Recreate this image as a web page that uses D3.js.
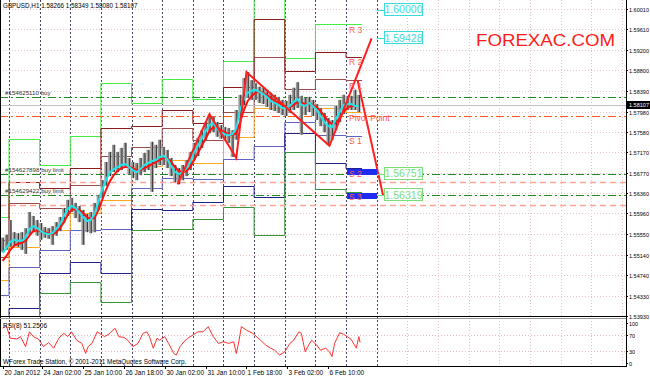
<!DOCTYPE html>
<html>
<head>
<meta charset="utf-8">
<script src="https://cdn.jsdelivr.net/npm/d3@7"></script>
<style>
  html, body { margin: 0; padding: 0; background: #fff; }
  svg { display: block; font-family: "Liberation Sans", Arial, sans-serif; }
</style>
</head>
<body>
<div id="chart"></div>
<script>
// one sample every 3 hourly bars, bar 0 = 20 Jan 19:00
const barStep = 3;
const highs = [1.5548,1.5554,1.5583,1.5559,1.5557,1.5559,1.5567,1.5599,1.5591,1.5583,
  1.5577,1.5569,1.5567,1.5571,1.5579,1.5589,1.5607,1.5623,1.5627,1.5617,
  1.5611,1.5603,1.5595,1.5599,1.5617,1.5633,1.5662,1.5698,1.5718,1.5732,
  1.5718,1.5726,1.5736,1.5706,1.5698,1.5696,1.5706,1.5716,1.5722,1.5738,
  1.5732,1.5742,1.5728,1.5722,1.5706,1.5692,1.5686,1.5692,1.5702,1.5718,
  1.5736,1.5746,1.5761,1.5777,1.5791,1.5787,1.5777,1.5771,1.5767,1.5765,
  1.5761,1.5801,1.5831,1.5864,1.5876,1.5860,1.5854,1.5847,1.5845,1.5841,
  1.5835,1.5831,1.5827,1.5821,1.5819,1.5831,1.5845,1.5856,1.5829,1.5825,
  1.5827,1.5821,1.5813,1.5805,1.5795,1.5785,1.5781,1.5809,1.5821,1.5831,
  1.5829,1.5829,1.5841,1.5831];
const lows = [1.5520,1.5524,1.5530,1.5532,1.5530,1.5524,1.5516,1.5554,1.5559,1.5552,
  1.5544,1.5548,1.5546,1.5534,1.5552,1.5561,1.5577,1.5591,1.5599,1.5587,
  1.5579,1.5534,1.5559,1.5557,1.5559,1.5603,1.5627,1.5651,1.5670,1.5678,
  1.5678,1.5682,1.5686,1.5674,1.5666,1.5662,1.5672,1.5678,1.5682,1.5639,
  1.5686,1.5692,1.5692,1.5686,1.5670,1.5658,1.5654,1.5662,1.5670,1.5682,
  1.5702,1.5710,1.5726,1.5742,1.5755,1.5757,1.5748,1.5744,1.5740,1.5736,
  1.5708,1.5742,1.5781,1.5811,1.5825,1.5821,1.5821,1.5815,1.5813,1.5807,
  1.5801,1.5799,1.5795,1.5791,1.5789,1.5795,1.5801,1.5805,1.5752,1.5791,
  1.5797,1.5789,1.5781,1.5769,1.5757,1.5732,1.5742,1.5761,1.5777,1.5793,
  1.5801,1.5801,1.5801,1.5797];
const maFast = [1.5518,1.5528,1.5540,1.5544,1.5542,1.5542,1.5548,1.5565,1.5571,1.5567,
  1.5561,1.5557,1.5555,1.5557,1.5565,1.5575,1.5591,1.5605,1.5611,1.5607,
  1.5599,1.5589,1.5581,1.5583,1.5595,1.5619,1.5643,1.5662,1.5678,1.5684,
  1.5688,1.5692,1.5694,1.5688,1.5682,1.5678,1.5684,1.5692,1.5696,1.5700,
  1.5702,1.5708,1.5710,1.5704,1.5690,1.5678,1.5674,1.5678,1.5686,1.5698,
  1.5718,1.5730,1.5744,1.5759,1.5771,1.5775,1.5763,1.5757,1.5753,1.5751,
  1.5753,1.5765,1.5801,1.5823,1.5835,1.5839,1.5841,1.5837,1.5833,1.5827,
  1.5819,1.5815,1.5811,1.5805,1.5805,1.5809,1.5817,1.5823,1.5811,1.5809,
  1.5815,1.5809,1.5801,1.5789,1.5777,1.5769,1.5767,1.5783,1.5797,1.5811,
  1.5813,1.5813,1.5809,1.5809];
const maSlow = [1.5502,1.5512,1.5524,1.5532,1.5536,1.5538,1.5542,1.5552,1.5561,1.5563,
  1.5561,1.5559,1.5557,1.5555,1.5559,1.5567,1.5579,1.5593,1.5603,1.5605,
  1.5603,1.5597,1.5589,1.5585,1.5587,1.5603,1.5623,1.5643,1.5660,1.5672,
  1.5680,1.5686,1.5688,1.5688,1.5686,1.5682,1.5682,1.5686,1.5690,1.5694,
  1.5698,1.5702,1.5706,1.5706,1.5698,1.5688,1.5680,1.5678,1.5680,1.5688,
  1.5702,1.5716,1.5730,1.5744,1.5759,1.5767,1.5767,1.5761,1.5757,1.5753,
  1.5751,1.5755,1.5777,1.5801,1.5819,1.5829,1.5835,1.5837,1.5835,1.5831,
  1.5825,1.5819,1.5815,1.5811,1.5807,1.5807,1.5811,1.5817,1.5815,1.5813,
  1.5813,1.5811,1.5807,1.5799,1.5789,1.5779,1.5773,1.5775,1.5785,1.5797,
  1.5805,1.5809,1.5809,1.5809];

const rsiBars = [0,3,6,11,14,18,21,24,28,32,36,40,44,48,51,54,58,62,65,67,
  70,74,76,80,84,88,91,95,98,102,106,110,113,115,118,121,123,127,130,134,
  136,139,142,145,149,153,157,161,165,169,173,177,181,183,185,187,191,196,202,206,
  210,213,217,221,225,228,232,234,237,239,242,246,249,253,256,258,260,264,267,270,
  273,277,279,280];
const rsiValues = [87,92,62,60,66,41,78,66,60,41,51,37,62,74,66,78,57,49,24,41,
  49,78,74,66,74,87,66,64,57,41,49,74,78,66,37,62,57,66,49,24,
  20,41,53,62,70,78,78,91,66,49,53,49,53,24,53,91,82,74,57,45,
  37,32,20,28,49,57,78,74,28,41,57,45,32,37,28,16,49,76,72,66,
  59,37,66,51];

// daily pivot levels (20 Jan .. 7 Feb)
const dayStartBars = [-2,5,29,53,77,101,125,149,173,197,221,245,269];
const lastBar = 280;
const pivotR3 = [1.5589,1.5744,1.5692,1.5750,1.5854,1.5815,1.5862,1.5823,1.5898,1.6082,1.5904,1.5971,1.5971];
const pivotR2 = [1.5544,1.5658,1.5647,1.5686,1.5765,1.5769,1.5801,1.5775,1.5847,1.5981,1.5878,1.5916,1.5906];
const pivotR1 = [1.5510,1.5617,1.5607,1.5653,1.5710,1.5728,1.5765,1.5742,1.5797,1.5906,1.5843,1.5862,1.5860];
const pivotP  = [1.5464,1.5530,1.5563,1.5597,1.5623,1.5690,1.5702,1.5696,1.5748,1.5805,1.5817,1.5805,1.5797];
const pivotS1 = [1.5435,1.5490,1.5524,1.5563,1.5565,1.5647,1.5666,1.5664,1.5704,1.5730,1.5777,1.5752,1.5750];
const pivotS2 = [1.5385,1.5409,1.5478,1.5500,1.5478,1.5605,1.5603,1.5619,1.5650,1.5629,1.5755,1.5696,1.5686];
const pivotS3 = [1.5352,1.5369,1.5439,1.5460,1.5421,1.5563,1.5565,1.5585,1.5609,1.5554,1.5718,1.5645,1.5639];

const zigzagBars = [137,162,183,191,256,289];
const zigzagPrices = [1.5654,1.5793,1.5706,1.5876,1.5730,1.59428];
const projBars = [278,298];
const projPrices = [1.5860,1.56319];

const orderPrices = [1.5827,1.56751,1.56319];
const orderNames = ['#154625110 buy','#154627898 buy limit','#154629422 buy limit'];
const stopPrices = [1.5789,1.5658,1.5613];
const targetPrices = [1.60000,1.59428,1.56751,1.56319];
const bid = 1.58107;

const priceTicks = [1.60010,1.59610,1.59200,1.58800,1.58390,1.57980,1.57580,1.57170,
  1.56770,1.56360,1.55960,1.55550,1.55140,1.54740,1.54330,1.53930];
const rsiTicks = [100,70,30,0];
const timeLabelBars = [0,31,63,95,127,159,191,223,255];
const timeLabels = ['20 Jan 2012','24 Jan 02:00','25 Jan 10:00','26 Jan 18:00','30 Jan 02:00',
  '31 Jan 10:00','1 Feb 18:00','3 Feb 02:00','6 Feb 10:00'];

const W = 650, H = 378, plotRight = 626;
const mainBottom = 316, rsiTop = 319, rsiBottom = 366;

const x = d3.scaleLinear().domain([5, 280]).range([9, 360.1]);
const y = d3.scaleLinear().domain([1.5393, 1.6001]).range([316, 9]);
const yr = d3.scaleLinear().domain([0, 100]).range([363, 323]);

const svg = d3.select('#chart').append('svg')
  .attr('width', W).attr('height', H);

svg.append('defs').append('clipPath').attr('id', 'clipMain')
  .append('rect').attr('x', 0).attr('y', 0).attr('width', plotRight).attr('height', mainBottom);

// grid
const grid = svg.append('g');
grid.selectAll('.hg').data(priceTicks).enter().append('line')
  .attr('x1', 0).attr('x2', plotRight)
  .attr('y1', d => Math.round(y(d)) + 0.5).attr('y2', d => Math.round(y(d)) + 0.5)
  .attr('stroke', '#e4c4c4').attr('stroke-dasharray', '1,2');
grid.selectAll('.rg').data([70, 30]).enter().append('line')
  .attr('x1', 0).attr('x2', plotRight)
  .attr('y1', d => Math.round(yr(d)) + 0.5).attr('y2', d => Math.round(yr(d)) + 0.5)
  .attr('stroke', '#e0bcbc').attr('stroke-dasharray', '1,2');
const futureBars = d3.range(293 + 24, 490, 24);
grid.selectAll('.vg').data(futureBars).enter().append('line')
  .attr('x1', d => Math.round(x(d)) + 0.5).attr('x2', d => Math.round(x(d)) + 0.5)
  .attr('y1', 0).attr('y2', rsiBottom)
  .attr('stroke', '#e4c4c4').attr('stroke-dasharray', '1,2');

// period separators
const sepBars = dayStartBars.slice(1).concat([293]);
grid.selectAll('.sep').data(sepBars).enter().append('line')
  .attr('x1', d => Math.round(x(d)) + 0.5).attr('x2', d => Math.round(x(d)) + 0.5)
  .attr('y1', 0).attr('y2', rsiBottom)
  .attr('stroke', '#45456a').attr('stroke-dasharray', '2,2');

const main = svg.append('g').attr('clip-path', 'url(#clipMain)');

// pivot step lines
const pivotSets = [
  {vals: pivotR3, color: '#45ee45'},
  {vals: pivotR2, color: '#8b1c1c'},
  {vals: pivotR1, color: '#9c4a4a'},
  {vals: pivotP,  color: '#ffa820'},
  {vals: pivotS1, color: '#6262c4'},
  {vals: pivotS2, color: '#22228b'},
  {vals: pivotS3, color: '#3a963a'}
];
const stepLine = d3.line().x(d => x(d[0])).y(d => Math.round(y(d[1])) + 0.5).curve(d3.curveStepAfter);
pivotSets.forEach(s => {
  const pts = dayStartBars.map((b, k) => [b, s.vals[k]]).concat([[lastBar + 1.5, s.vals[s.vals.length - 1]]]);
  main.append('path').attr('d', stepLine(pts))
    .attr('fill', 'none').attr('stroke', s.color).attr('stroke-width', 1);
});

// order lines
main.selectAll('.ord').data(orderPrices).enter().append('line')
  .attr('x1', 0).attr('x2', plotRight)
  .attr('y1', d => Math.round(y(d)) + 0.5).attr('y2', d => Math.round(y(d)) + 0.5)
  .attr('stroke', '#1e8c1e').attr('stroke-dasharray', '8,3,2,3');
main.selectAll('.stp').data(stopPrices).enter().append('line')
  .attr('x1', 0).attr('x2', plotRight)
  .attr('y1', d => Math.round(y(d)) + 0.5).attr('y2', d => Math.round(y(d)) + 0.5)
  .attr('stroke', (d, i) => i === 0 ? '#ff5a1e' : '#ffa595')
  .attr('stroke-width', (d, i) => i === 0 ? 1 : 1.3)
  .attr('stroke-dasharray', (d, i) => i === 0 ? '8,3,2,3' : '6,4');
main.append('line')
  .attr('x1', 0).attr('x2', plotRight)
  .attr('y1', Math.round(y(bid)) + 0.5).attr('y2', Math.round(y(bid)) + 0.5)
  .attr('stroke', '#c0c0c0');
main.selectAll('.ordtxt').data(orderPrices).enter().append('text')
  .attr('x', 5).attr('y', d => y(d) - 2)
  .attr('font-size', 6.2).attr('fill', '#303030')
  .text((d, i) => orderNames[i]);

// price bars: soft body plus dark core
main.selectAll('.barw').data(highs).enter().append('line')
  .attr('x1', (d, i) => x(i * barStep)).attr('x2', (d, i) => x(i * barStep))
  .attr('y1', d => y(d)).attr('y2', (d, i) => y(lows[i]))
  .attr('stroke', '#9a9a9a').attr('stroke-width', 3.4);
main.selectAll('.bar').data(highs).enter().append('line')
  .attr('x1', (d, i) => x(i * barStep) + 0.6).attr('x2', (d, i) => x(i * barStep) + 0.6)
  .attr('y1', d => y(d)).attr('y2', (d, i) => y(lows[i]))
  .attr('stroke', '#3a3a3a').attr('stroke-width', 1);

// moving averages
const maLine = d3.line().x((d, i) => x(i * barStep)).y(d => y(d));
main.append('path').attr('d', maLine(maSlow))
  .attr('fill', 'none').attr('stroke', '#ff1010').attr('stroke-width', 2);
main.append('path').attr('d', maLine(maFast))
  .attr('fill', 'none').attr('stroke', '#22e4ea').attr('stroke-width', 2);

// zigzag and projections
const ptLine = d3.line().x(d => x(d[0])).y(d => y(d[1]));
main.append('path').attr('d', ptLine(zigzagBars.map((b, i) => [b, zigzagPrices[i]])))
  .attr('fill', 'none').attr('stroke', '#ff1e1e').attr('stroke-width', 2);
main.append('path').attr('d', ptLine(projBars.map((b, i) => [b, projPrices[i]])))
  .attr('fill', 'none').attr('stroke', '#ff1e1e').attr('stroke-width', 2);

// level labels for the current day
const lx = x(dayStartBars[12]) + 3;
[pivotS2, pivotS3].forEach(v => {
  const yy = Math.round(y(v[12])) + 1;
  main.append('rect').attr('x', x(dayStartBars[12]) + 1).attr('y', yy)
    .attr('width', 30).attr('height', 6).attr('fill', '#1e2cf0');
});
const lvlLabels = [[pivotR3, 'R 3'], [pivotR2, 'R 2'], [pivotR1, 'R 1'], [pivotP, 'Pivot Point'],
  [pivotS1, 'S 1'], [pivotS2, 'S 2'], [pivotS3, 'S 3']];
main.selectAll('.lvl').data(lvlLabels).enter().append('text')
  .attr('x', lx).attr('y', d => y(d[0][12]) + 8.5)
  .attr('font-size', 8.5).attr('fill', '#ff5a4a')
  .text(d => d[1]);

// target boxes
const boxes = svg.append('g');
targetPrices.forEach((p, i) => {
  const c = i < 2 ? '#3cdcdc' : '#7ade7a';
  const yy = y(p);
  boxes.append('line').attr('x1', 377).attr('x2', 384)
    .attr('y1', Math.round(yy) + 0.5).attr('y2', Math.round(yy) + 0.5).attr('stroke', c);
  boxes.append('rect').attr('x', 384.5).attr('y', Math.round(yy) - 6.5)
    .attr('width', 38).attr('height', 12).attr('fill', '#fff').attr('stroke', c);
  boxes.append('text').attr('x', 403.5).attr('y', yy + 3.8)
    .attr('text-anchor', 'middle').attr('font-size', 10.5).attr('fill', c)
    .text(d3.format('.5f')(p));
});

svg.append('text').attr('x', 476).attr('y', 46)
  .attr('font-size', 17).attr('fill', '#ff1a1a')
  .attr('textLength', 139).attr('lengthAdjust', 'spacingAndGlyphs')
  .text('FOREXAC.COM');

// RSI
svg.append('path')
  .attr('d', d3.line().x(d => x(d[0])).y(d => yr(d[1]))(rsiBars.map((b, i) => [b, rsiValues[i]])))
  .attr('fill', 'none').attr('stroke', '#ff3030').attr('stroke-width', 1);

// frames
const fr = svg.append('g').attr('stroke', '#000').attr('shape-rendering', 'crispEdges');
fr.append('line').attr('x1', 0.5).attr('x2', 0.5).attr('y1', 0).attr('y2', rsiBottom);
fr.append('line').attr('x1', plotRight + 0.5).attr('x2', plotRight + 0.5).attr('y1', 0).attr('y2', rsiBottom + 1);
fr.append('line').attr('x1', 0).attr('x2', plotRight).attr('y1', mainBottom + 0.5).attr('y2', mainBottom + 0.5);
fr.append('line').attr('x1', 0).attr('x2', plotRight).attr('y1', rsiTop - 0.5).attr('y2', rsiTop - 0.5).attr('stroke', '#9a9a9a');
fr.append('line').attr('x1', 0).attr('x2', plotRight).attr('y1', rsiBottom + 0.5).attr('y2', rsiBottom + 0.5);

// price axis
const ax = svg.append('g').attr('font-size', 5.5).attr('fill', '#000');
priceTicks.forEach(p => {
  const yy = Math.round(y(p)) + 0.5;
  ax.append('line').attr('x1', plotRight).attr('x2', plotRight + 2).attr('y1', yy).attr('y2', yy).attr('stroke', '#000');
  ax.append('text').attr('x', plotRight + 3).attr('y', yy + 2)
    .attr('textLength', 20).attr('lengthAdjust', 'spacingAndGlyphs')
    .text(d3.format('.5f')(p));
});
rsiTicks.forEach(v => {
  const yy = Math.round(yr(v)) + 0.5;
  ax.append('line').attr('x1', plotRight).attr('x2', plotRight + 2).attr('y1', yy).attr('y2', yy).attr('stroke', '#000');
  ax.append('text').attr('x', plotRight + 3).attr('y', yy + 2).text(v);
});
const by = Math.round(y(bid));
ax.append('rect').attr('x', plotRight + 1).attr('y', by - 4).attr('width', 23).attr('height', 8).attr('fill', '#000');
ax.append('text').attr('x', plotRight + 3).attr('y', by + 2).attr('fill', '#fff')
  .attr('textLength', 20).attr('lengthAdjust', 'spacingAndGlyphs')
  .text(d3.format('.5f')(bid));

// time axis
timeLabelBars.forEach((b, i) => {
  const xx = Math.round(x(b)) + 0.5;
  ax.append('line').attr('x1', xx).attr('x2', xx).attr('y1', rsiBottom).attr('y2', rsiBottom + 3).attr('stroke', '#000');
  ax.append('text').attr('x', xx + 1).attr('y', 375).attr('font-size', 6.5).text(timeLabels[i]);
});

// captions
svg.append('text').attr('x', 3).attr('y', 7.5).attr('font-size', 6.3)
  .text('GBPUSD,H1  1.58266 1.58349 1.58080 1.58107');
svg.append('text').attr('x', 3).attr('y', 327.5).attr('font-size', 6.5)
  .text('RSI(8) 51.2506');
svg.append('text').attr('x', 3).attr('y', 364).attr('font-size', 6.4)
  .text('WForex Trade Station, \u00a9 2001-2011 MetaQuotes Software Corp.');
</script>
</body>
</html>
